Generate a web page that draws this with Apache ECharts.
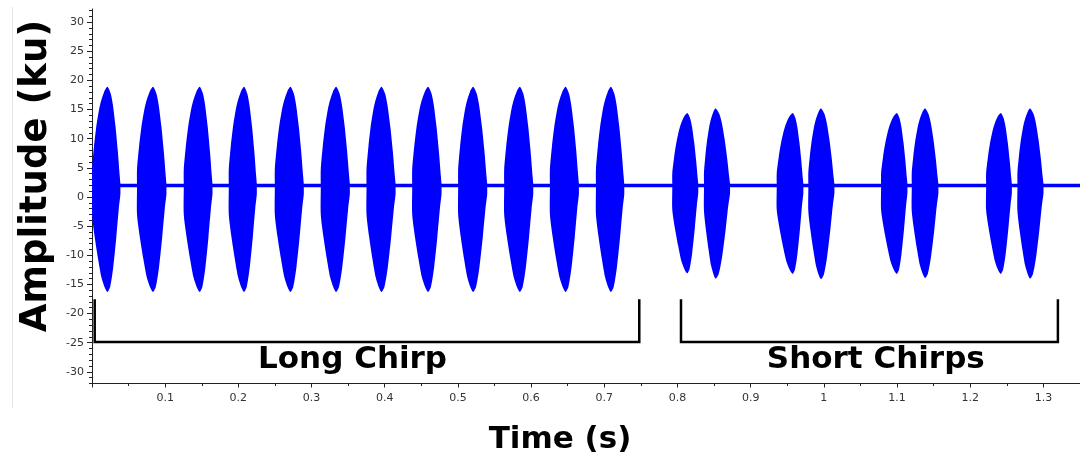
<!DOCTYPE html>
<html>
<head>
<meta charset="utf-8">
<script src="https://cdn.jsdelivr.net/npm/echarts@6/dist/echarts.min.js"></script>
<style>
  html, body { margin: 0; padding: 0; background: #ffffff; }
  #chart { width: 1080px; height: 457px; }
</style>
</head>
<body>
<div id="chart"></div>
<script>
// ---- Recording: chirp bursts (time in s, amplitude in ku) ----
// Each burst: onset, time of maximum swing, end, positive peak, negative peak.
const burstStart  = [0.0000, 0.0615, 0.1254, 0.1869, 0.2498, 0.3126, 0.3751, 0.4375, 0.5003, 0.5632, 0.6257, 0.6886,
                     0.7929, 0.8362, 0.9356, 0.9788, 1.0782, 1.1201, 1.2217, 1.2645];
const burstPeak   = [0.0211, 0.0834, 0.1472, 0.2078, 0.2712, 0.3336, 0.3956, 0.4593, 0.5208, 0.5847, 0.6472, 0.7091,
                     0.8134, 0.8522, 0.9575, 0.9962, 1.0997, 1.1384, 1.2418, 1.2819];
const burstEnd    = [0.0388, 0.1017, 0.1646, 0.2252, 0.2894, 0.3523, 0.4148, 0.4776, 0.5400, 0.6029, 0.6653, 0.7273,
                     0.8284, 0.8718, 0.9720, 1.0144, 1.1142, 1.1565, 1.2569, 1.3001];
const burstTop    = [18.9, 18.9, 18.9, 18.9, 18.9, 18.9, 18.9, 18.9, 18.9, 18.9, 18.9, 18.9,
                     14.4, 15.2, 14.4, 15.2, 14.4, 15.2, 14.4, 15.2];
const burstBottom = [-16.3, -16.3, -16.3, -16.3, -16.3, -16.3, -16.3, -16.3, -16.3, -16.3, -16.3, -16.3,
                     -13.1, -14.0, -13.2, -14.1, -13.2, -13.9, -13.2, -14.0];

// Envelope profile of one burst: [fraction of segment, fraction of swing]
const riseUpper = [[0, 0.15], [0.125, 0.38], [0.27, 0.58], [0.44, 0.75], [0.58, 0.85], [0.79, 0.95], [1, 1]];
const fallUpper = [[0.25, 0.93], [0.425, 0.81], [0.625, 0.59], [0.8, 0.34], [0.95, 0.08], [1, 0]];
const riseLower = [[0, 0.26], [0.17, 0.47], [0.39, 0.68], [0.61, 0.86], [0.83, 0.96], [1, 1]];
const fallLower = [[0.21, 0.95], [0.45, 0.76], [0.69, 0.47], [0.88, 0.2], [1, 0.067]];

// Background noise band between bursts
const baseTop = 2.25;
const baseBottom = 1.65;
const recordEnd = 1.35;

// Annotation brackets
const bracketNames = ['Long Chirp', 'Short Chirps'];
const bracketLeft  = [0.0037, 0.8048];
const bracketRight = [0.7478, 1.3198];
const bracketTop = -17.75;
const bracketBottom = -24.9;
const bracketLabelX = [0.356, 1.071];
const bracketLabelY = -27.9;

// Axis ticks
const xTicks = [0, 0.1, 0.2, 0.3, 0.4, 0.5, 0.6, 0.7, 0.8, 0.9, 1, 1.1, 1.2, 1.3];
const xLabels = [0.1, 0.2, 0.3, 0.4, 0.5, 0.6, 0.7, 0.8, 0.9, 1, 1.1, 1.2, 1.3];
const xMinor = [0.05, 0.15, 0.25, 0.35, 0.45, 0.55, 0.65, 0.75, 0.85, 0.95, 1.05, 1.15, 1.25, 1.35];
const yTicks = [-30, -25, -20, -15, -10, -5, 0, 5, 10, 15, 20, 25, 30];
const yMinor = [];
for (let v = -32; v <= 32; v++) if (v % 5 !== 0) yMinor.push(v);

const SIGNAL = '#0000ff';
const INK = '#000000';

const chart = echarts.init(document.getElementById('chart'), null, { renderer: 'canvas' });

const burstRows = burstStart.map((s, i) => [s, burstPeak[i], burstEnd[i], burstTop[i], burstBottom[i]]);

function renderBurst(params, api) {
  const s = api.value(0), p = api.value(1), e = api.value(2);
  const top = api.value(3), bot = api.value(4);
  const up = [[s, baseTop]];
  riseUpper.forEach(([q, f]) => up.push([s + q * (p - s), baseTop + f * (top - baseTop)]));
  fallUpper.forEach(([q, f]) => up.push([p + q * (e - p), baseTop + f * (top - baseTop)]));
  up.push([e, baseTop]);
  const lo = [[s, baseBottom]];
  riseLower.forEach(([q, f]) => lo.push([s + q * (p - s), baseBottom + f * (bot - baseBottom)]));
  fallLower.forEach(([q, f]) => lo.push([p + q * (e - p), baseBottom + f * (bot - baseBottom)]));
  lo.push([e, baseBottom]);
  const pts = up.concat(lo.reverse()).map(d => api.coord(d));
  return { type: 'polygon', shape: { points: pts, smooth: 0.25 }, style: { fill: SIGNAL } };
}

function renderNoise(params, api) {
  const a = api.coord([api.value(0), baseTop]);
  const b = api.coord([api.value(1), baseBottom]);
  return { type: 'rect', shape: { x: a[0], y: a[1], width: b[0] - a[0], height: b[1] - a[1] }, style: { fill: SIGNAL } };
}

const bracketSeries = bracketNames.map((name, i) => ({
  type: 'line',
  name: name,
  silent: true,
  symbol: 'none',
  animation: false,
  lineStyle: { color: INK, width: 2.5, join: 'miter', cap: 'square' },
  data: [[bracketLeft[i], bracketTop], [bracketLeft[i], bracketBottom],
         [bracketRight[i], bracketBottom], [bracketRight[i], bracketTop]],
  z: 5
}));

const tickFont = { fontFamily: 'DejaVu Sans', fontSize: 11, color: '#333333' };

const option = {
  backgroundColor: '#ffffff',
  animation: false,
  grid: { left: 92, right: 0, top: 9, bottom: 73.5 },
  xAxis: [
    {
      type: 'value', min: 0, max: recordEnd,
      axisLine: { show: true, onZero: false, lineStyle: { color: '#222', width: 1 } },
      axisTick: { show: true, length: 4, customValues: xTicks, lineStyle: { color: '#222' } },
      axisLabel: { show: true, customValues: xLabels, margin: 9, ...tickFont },
      splitLine: { show: false }
    },
    {
      type: 'value', min: 0, max: recordEnd, position: 'bottom',
      axisLine: { show: false, onZero: false },
      axisTick: { show: true, length: 2.5, customValues: xMinor, lineStyle: { color: '#222' } },
      axisLabel: { show: false },
      splitLine: { show: false }
    }
  ],
  yAxis: [
    {
      type: 'value', min: -32, max: 32.25,
      axisLine: { show: true, onZero: false, lineStyle: { color: '#222', width: 1 } },
      axisTick: { show: true, length: 5, customValues: yTicks, lineStyle: { color: '#222' } },
      axisLabel: { show: true, customValues: yTicks, margin: 8, ...tickFont },
      splitLine: { show: false }
    },
    {
      type: 'value', min: -32, max: 32.25, position: 'left', offset: 0,
      axisLine: { show: false, onZero: false },
      axisTick: { show: true, length: 3, customValues: yMinor, lineStyle: { color: '#222' } },
      axisLabel: { show: false },
      splitLine: { show: false }
    }
  ],
  graphic: [
    {
      type: 'line', silent: true,
      shape: { x1: 12.5, y1: 7, x2: 12.5, y2: 408 },
      style: { stroke: '#e4e4e4', lineWidth: 1 }
    },
    {
      type: 'text', silent: true, x: 36, y: 176, rotation: Math.PI / 2,
      style: { text: 'Amplitude (ku)', font: 'bold 37px "DejaVu Sans"', fill: INK, align: 'center', verticalAlign: 'middle' }
    },
    {
      type: 'text', silent: true, x: 560, y: 440,
      style: { text: 'Time (s)', font: 'bold 31px "DejaVu Sans"', fill: INK, align: 'center', verticalAlign: 'middle' }
    }
  ],
  series: [
    {
      type: 'custom', name: 'noise', silent: true, clip: true,
      renderItem: renderNoise,
      encode: { x: [0, 1] },
      data: [[0, recordEnd]],
      z: 2
    },
    {
      type: 'custom', name: 'bursts', silent: true, clip: true,
      renderItem: renderBurst,
      encode: { x: [0, 2], y: [3, 4] },
      data: burstRows,
      z: 3
    },
    ...bracketSeries,
    {
      type: 'scatter', name: 'labels', silent: true,
      symbolSize: 0,
      itemStyle: { opacity: 1 },
      data: bracketNames.map((n, i) => [bracketLabelX[i], bracketLabelY, n]),
      label: {
        show: true, position: 'inside', opacity: 1,
        formatter: p => p.value[2],
        fontFamily: 'DejaVu Sans', fontWeight: 'bold', fontSize: 31, color: INK
      },
      z: 6
    }
  ]
};

chart.setOption(option);
</script>
</body>
</html>
